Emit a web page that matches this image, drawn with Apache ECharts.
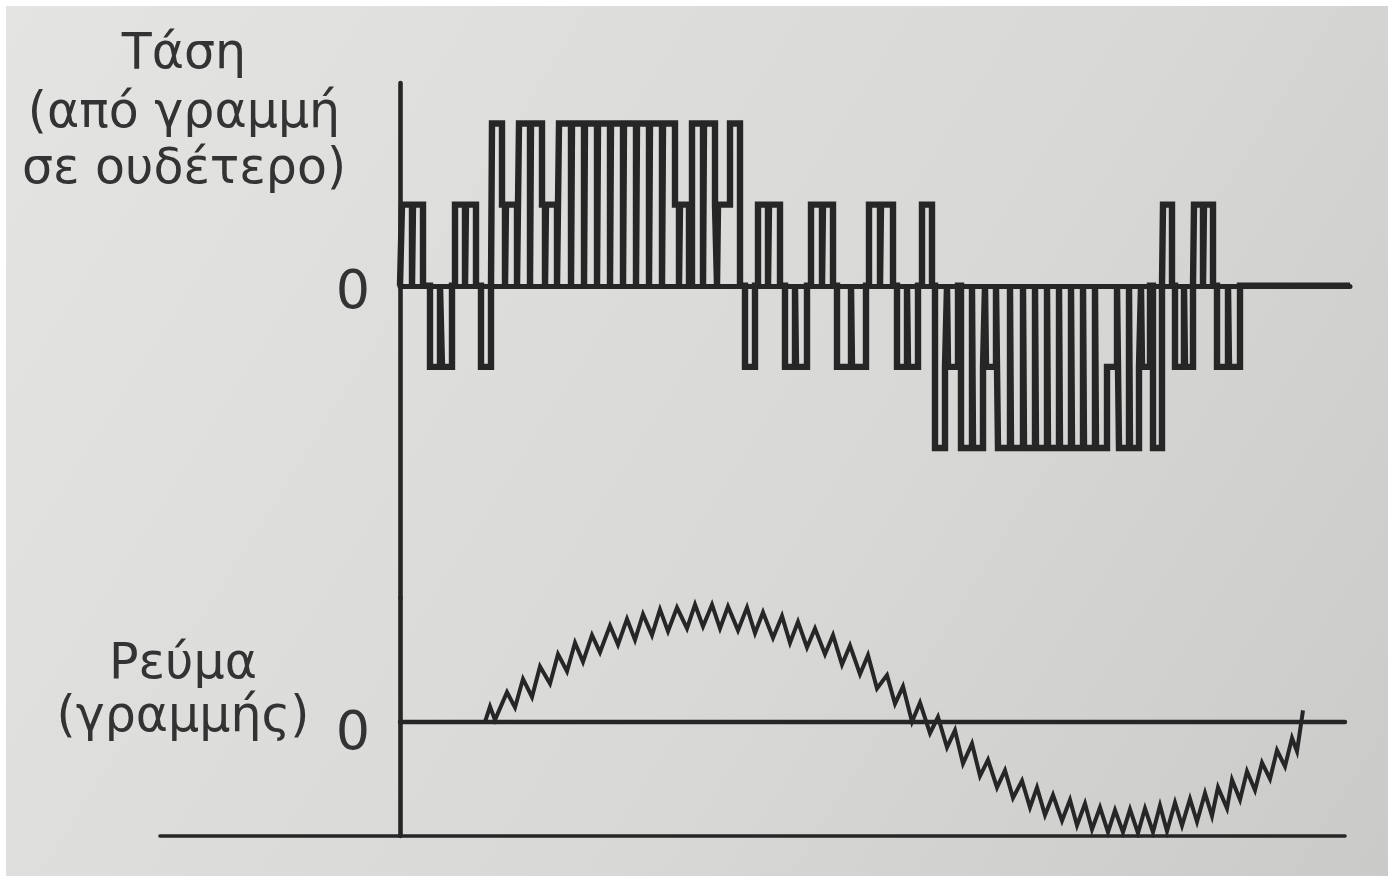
<!DOCTYPE html>
<html><head><meta charset="utf-8">
<script src="https://cdn.jsdelivr.net/npm/echarts@6/dist/echarts.min.js"></script>
<style>html,body{margin:0;padding:0;background:#fff}#c{width:1394px;height:882px}</style>
</head><body><div id="c"></div>
<script>
// ---- text ----
const voltageLabel = ['Τάση', '(από γραμμή', 'σε ουδέτερο)'];
const currentLabel = ['Ρεύμα', '(γραμμής)'];
const zeroTicks = [0];

// ---- line-to-neutral voltage: [time, level] step edges (level in units of Vd/3) ----
const voltageEdges = [
  [0,0],
  [2,1],[12,0],[13,1],[23,0],
  [30,-1],[40,0],[42,-1],[52,0],
  [55,1],[65,0],[66,1],[76,0],
  [81,-1],[91,0],
  [92,2],[102,1],[105,0],[106,1],[117,0],
  [119,2],[130,0],[131,2],[142,1],[145,0],[146,1],[157,0],
  [159,2],[171,0],[172,2],[184,0],[185,2],[197,0],[198,2],[210,0],[211,2],[223,0],
  [224,2],[236,0],[237,2],[249,0],[250,2],[262,0],[263,2],[275,1],
  [279,0],[280,1],[289,0],
  [292,2],[303,0],[304,2],[315,1],[317,0],[318,1],[330,2],[340,0],
  [345,-1],[355,0],
  [358,1],[368,0],[369,1],[380,0],
  [385,-1],[395,0],[396,-1],[407,0],
  [411,1],[422,0],[423,1],[433,0],
  [437,-1],[451,0],[452,-1],[466,0],
  [469,1],[480,0],[481,1],[493,0],
  [497,-1],[507,0],[508,-1],[518,0],
  [522,1],[532,0],
  [535,-2],[545,-1],[547,0],[548,-1],[558,0],
  [561,-2],[572,0],[573,-2],[583,-1],[585,0],[586,-1],[596,0],
  [598,-2],[610,0],[611,-2],[623,0],[624,-2],[635,0],[636,-2],[647,0],[648,-2],[659,0],
  [660,-2],[671,0],[672,-2],[683,0],[684,-2],[695,0],[696,-2],[707,-1],[717,0],
  [719,-2],[729,0],[730,-2],[739,-1],[741,0],[742,-1],[750,0],
  [753,-2],[762,0],[763,1],[772,0],
  [775,-1],[784,0],[785,-1],[793,0],
  [794,1],[803,0],[804,1],[813,0],
  [817,-1],[828,0],[829,-1],[840,0],
  [950,0]
];

// ---- line current: zig-zag vertices [time, value] ----
const currentVertices = [
  [85,0],[90,0.16],[95,0.02],
  [97,0.01],[107,0.31],[115,0.15],[123,0.45],[132,0.26],[140,0.58],[150,0.40],[158,0.71],
  [167,0.53],[175,0.83],[183,0.63],[192,0.91],[200,0.73],[210,1.01],[218,0.81],[227,1.08],
  [235,0.86],[243,1.13],[252,0.91],[260,1.18],[268,0.95],[277,1.20],[287,0.98],[295,1.23],
  [303,1.00],[312,1.23],[320,0.98],[328,1.21],[338,0.96],[347,1.20],[355,0.93],[363,1.15],
  [373,0.88],[382,1.11],[390,0.83],[398,1.05],[407,0.78],[415,0.98],[425,0.71],[433,0.91],
  [442,0.60],[450,0.80],[460,0.50],[468,0.70],[477,0.35],[487,0.49],[495,0.19],[503,0.37],
  [512,0.00],[520,0.20],[530,-0.12],[538,0.05],[547,-0.27],[555,-0.09],[563,-0.44],[572,-0.23],
  [580,-0.57],[588,-0.40],[597,-0.69],[605,-0.51],[613,-0.80],[622,-0.62],[630,-0.90],[637,-0.69],
  [645,-0.98],[653,-0.77],[662,-1.04],[670,-0.82],[677,-1.09],[685,-0.86],[692,-1.13],[700,-0.90],
  [708,-1.16],[715,-0.93],[723,-1.16],[730,-0.92],[738,-1.17],[745,-0.91],[753,-1.16],[760,-0.88],
  [767,-1.15],[775,-0.85],[782,-1.09],[790,-0.81],[797,-1.05],[805,-0.75],[812,-0.99],[818,-0.69],
  [827,-0.91],[832,-0.61],[840,-0.82],[847,-0.52],[855,-0.72],[862,-0.43],[870,-0.60],[877,-0.30],
  [885,-0.47],[892,-0.17],[897,-0.31],[903,0.12]
];

const ink = '#262626';
const textInk = '#333333';
const fontFamily = 'DejaVu Sans';

const chart = echarts.init(document.getElementById('c'), null, {renderer: 'canvas'});

const labelGraphics = [];
const vY = [55, 114, 170];
voltageLabel.forEach((t, i) => labelGraphics.push({
  type: 'text', x: 184, y: vY[i],
  style: {text: t, fill: textInk, font: '49px "' + fontFamily + '"', textAlign: 'center', textVerticalAlign: 'middle'}
}));
const cY = [665, 718];
currentLabel.forEach((t, i) => labelGraphics.push({
  type: 'text', x: 183, y: cY[i],
  style: {text: t, fill: textInk, font: '49px "' + fontFamily + '"', textAlign: 'center', textVerticalAlign: 'middle'}
}));
labelGraphics.push({
  type: 'rect', shape: {x: 0, y: 0, width: 1394, height: 882}, z: 100, silent: true,
  style: {fill: 'none', stroke: '#ffffff', lineWidth: 12}
});

function zeroLabel(shift) {
  return {customValues: zeroTicks, margin: 30, formatter: v => '{z|' + v + '}',
    rich: {z: {fontSize: 54, fontFamily: fontFamily, color: textInk, padding: [shift, 0, 0, 0]}}};
}
const hidden = {axisTick: {show: false}, axisLabel: {show: false}, splitLine: {show: false}};

chart.setOption({
  animation: false,
  backgroundColor: {
    type: 'linear', x: 0, y: 0, x2: 1, y2: 1,
    colorStops: [{offset: 0, color: '#e4e4e2'}, {offset: 0.6, color: '#d8d8d6'}, {offset: 1, color: '#cacac8'}]
  },
  graphic: labelGraphics,
  grid: [
    {left: 400, right: 44, top: 83, height: 515, outerBoundsMode: 'none'},
    {left: 400, right: 49, top: 598, height: 238, outerBoundsMode: 'none'},
    {left: 160, right: 49, top: 598, height: 238, outerBoundsMode: 'none'}
  ],
  xAxis: [
    Object.assign({gridIndex: 0, type: 'value', min: 0, max: 950,
      axisLine: {show: true, onZero: true, lineStyle: {color: ink, width: 5}}}, hidden),
    Object.assign({gridIndex: 1, type: 'value', min: 0, max: 945,
      axisLine: {show: true, onZero: true, lineStyle: {color: ink, width: 4.4}}}, hidden),
    Object.assign({gridIndex: 2, type: 'value', min: -240, max: 945, position: 'bottom',
      axisLine: {show: true, onZero: false, lineStyle: {color: ink, width: 3.6}}}, hidden)
  ],
  yAxis: [
    {gridIndex: 0, type: 'value', min: -3.85, max: 2.5,
     axisLine: {show: true, onZero: false, lineStyle: {color: ink, width: 4.6}},
     axisTick: {show: false}, axisLabel: zeroLabel(16), splitLine: {show: false}},
    {gridIndex: 1, type: 'value', min: -1.2, max: 1.3,
     axisLine: {show: true, onZero: false, lineStyle: {color: ink, width: 4.6}},
     axisTick: {show: false}, axisLabel: zeroLabel(26), splitLine: {show: false}},
    Object.assign({gridIndex: 2, type: 'value', min: -1.2, max: 1.3,
     axisLine: {show: false}}, hidden)
  ],
  series: [
    {type: 'line', name: 'Τάση', xAxisIndex: 0, yAxisIndex: 0, data: voltageEdges,
     step: 'end', symbol: 'none', silent: true,
     lineStyle: {color: ink, width: 6.4, join: 'miter'}},
    {type: 'line', name: 'Ρεύμα', xAxisIndex: 1, yAxisIndex: 1, data: currentVertices,
     symbol: 'none', silent: true,
     lineStyle: {color: ink, width: 4, join: 'miter'}}
  ]
});
</script></body></html>
